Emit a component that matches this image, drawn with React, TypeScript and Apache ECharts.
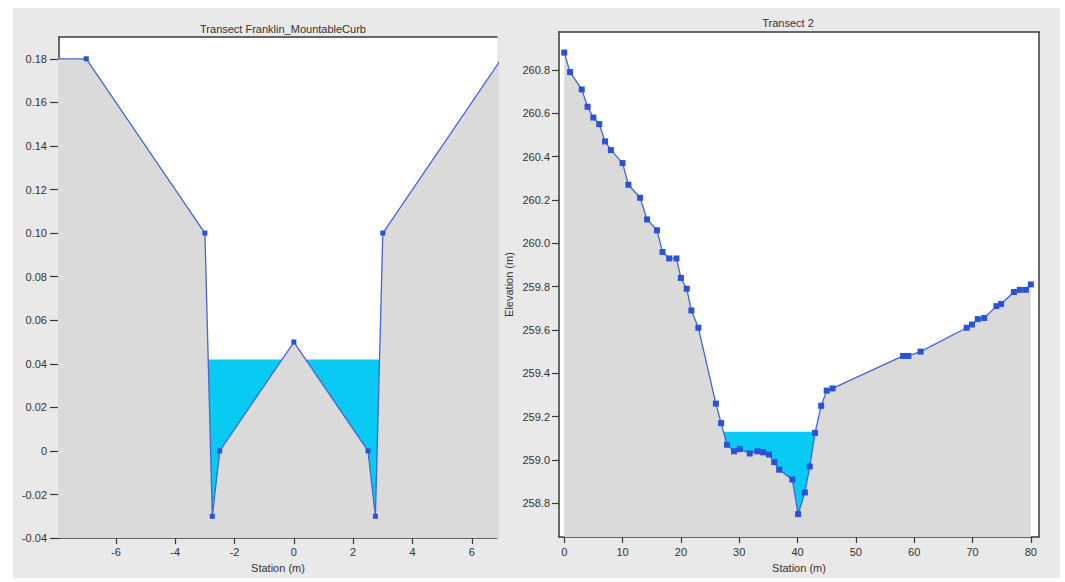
import React, { useEffect, useRef } from "react";
import * as echarts from "echarts";

// ---- Left transect (Franklin_MountableCurb) ----
const LEFT_STATION = [-8, -7, -3, -2.75, -2.5, 0, 2.5, 2.75, 3, 7];
const LEFT_ELEV = [0.18, 0.18, 0.1, -0.03, 0, 0.05, 0, -0.03, 0.1, 0.18];
const LEFT_WATER = 0.042;
const LEFT_X_TICKS = [-6, -4, -2, 0, 2, 4, 6];
const LEFT_Y_TICKS = [-0.04, -0.02, 0, 0.02, 0.04, 0.06, 0.08, 0.1, 0.12, 0.14, 0.16, 0.18];

// ---- Right transect (Transect 2) ----
const RIGHT_STATION = [
  0, 1, 3, 4, 5, 6, 7, 8, 10, 11,
  13, 14.2, 15.9, 16.85, 18, 19.25, 20, 21, 21.8, 23,
  26, 26.9, 27.9, 29.1, 30.1, 31.8, 33.1, 34.1, 35.1, 36,
  36.85, 39.1, 40.1, 41.25, 42.1, 43, 44.05, 45, 46, 58.1,
  59, 61.1, 69, 69.9, 70.9, 72, 74.1, 74.9, 77.1, 78.1,
  79.15, 80,
];
const RIGHT_ELEV = [
  260.88, 260.79, 260.71, 260.63, 260.58, 260.55, 260.47, 260.43, 260.37, 260.27,
  260.21, 260.11, 260.06, 259.96, 259.93, 259.93, 259.84, 259.79, 259.69, 259.61,
  259.26, 259.17, 259.07, 259.04, 259.05, 259.03, 259.04, 259.035, 259.025, 258.99,
  258.955, 258.91, 258.75, 258.85, 258.97, 259.125, 259.25, 259.32, 259.33, 259.48,
  259.48, 259.5, 259.61, 259.625, 259.65, 259.655, 259.71, 259.72, 259.775, 259.785,
  259.785, 259.81,
];
const RIGHT_WATER = 259.13;
const RIGHT_X_TICKS = [0, 10, 20, 30, 40, 50, 60, 70, 80];
const RIGHT_Y_TICKS = [258.8, 259.0, 259.2, 259.4, 259.6, 259.8, 260.0, 260.2, 260.4, 260.6, 260.8];

const FONT = "Liberation Sans";
const AXIS_COLOR = "#3a3a3a";
const LINE_COLOR = "#4566cf";
const MARK_COLOR = "#2a52d8";
const WATER_COLOR = "#08caf2";
const GROUND_COLOR = "#dadada";

function waterSpan(xs: number[], ys: number[], level: number): number[][] {
  let xl = xs[0];
  let xr = xs[xs.length - 1];
  for (let i = 0; i < xs.length - 1; i++) {
    if (ys[i] >= level && ys[i + 1] < level) {
      xl = xs[i] + ((ys[i] - level) / (ys[i] - ys[i + 1])) * (xs[i + 1] - xs[i]);
      break;
    }
  }
  for (let j = xs.length - 2; j >= 0; j--) {
    if (ys[j] < level && ys[j + 1] >= level) {
      xr = xs[j] + ((level - ys[j]) / (ys[j + 1] - ys[j])) * (xs[j + 1] - xs[j]);
      break;
    }
  }
  return [
    [xl, level],
    [xr, level],
  ];
}

const zip = (xs: number[], ys: number[]) => xs.map((x, i) => [x, ys[i]]);

export default function App() {
  const ref = useRef<HTMLDivElement>(null);

  useEffect(() => {
    if (!ref.current) return;
    const chart = echarts.init(ref.current, undefined, { renderer: "svg" });

    const labelStyle = { color: "#333", fontSize: 11, fontFamily: FONT };
    const line = { show: true, onZero: false, lineStyle: { color: AXIS_COLOR, width: 1.5 } };

    const mainX = (gridIndex: number, min: number, max: number, ticks: number[], margin: number, gap: number) => ({
      type: "value",
      gridIndex,
      min,
      max,
      position: "bottom",
      name: "Station (m)",
      nameLocation: "middle",
      nameGap: gap,
      nameTextStyle: labelStyle,
      axisLine: line,
      axisTick: { show: true, length: 6, customValues: ticks, lineStyle: { color: AXIS_COLOR, width: 1.2 } },
      axisLabel: { ...labelStyle, margin, customValues: ticks, formatter: (v: number) => String(Math.round(v)) },
      splitLine: { show: false },
    });
    const borderX = (gridIndex: number, min: number, max: number) => ({
      type: "value",
      gridIndex,
      min,
      max,
      position: "top",
      axisLine: line,
      axisTick: { show: false },
      axisLabel: { show: false },
      splitLine: { show: false },
    });

    const option: any = {
      animation: false,
      backgroundColor: "#e9e9e9",
      title: [
        {
          text: "Transect Franklin_MountableCurb",
          left: 265,
          top: 10,
          textAlign: "center",
          textStyle: { ...labelStyle, fontWeight: "normal" },
        },
        {
          text: "Transect 2",
          left: 770,
          top: 4,
          textAlign: "center",
          textStyle: { ...labelStyle, fontWeight: "normal" },
        },
      ],
      grid: [
        { left: 46, top: 29, width: 438, height: 505, show: true, backgroundColor: "#ffffff", borderWidth: 0 },
        { left: 546, top: 24, width: 480, height: 513, show: true, backgroundColor: "#ffffff", borderWidth: 0 },
      ],
      xAxis: [
        mainX(0, -7.92, 6.85, LEFT_X_TICKS, 8, 22),
        borderX(0, -7.92, 6.85),
        mainX(1, -0.9, 81.4, RIGHT_X_TICKS, 9, 23),
        borderX(1, -0.9, 81.4),
      ],
      yAxis: [
        {
          type: "value",
          gridIndex: 0,
          min: -0.04,
          max: 0.19,
          position: "left",
          axisLine: line,
          axisTick: { show: true, length: 9, customValues: LEFT_Y_TICKS, lineStyle: { color: AXIS_COLOR, width: 1.2 } },
          axisLabel: {
            ...labelStyle,
            margin: 12,
            customValues: LEFT_Y_TICKS,
            formatter: (v: number) => (Math.abs(v) < 1e-9 ? "0" : v.toFixed(2)),
          },
          splitLine: { show: false },
        },
        {
          type: "value",
          gridIndex: 1,
          min: 258.644,
          max: 260.975,
          position: "left",
          name: "Elevation (m)",
          nameLocation: "middle",
          nameGap: 45,
          nameTextStyle: labelStyle,
          axisLine: line,
          axisTick: { show: true, length: 7, customValues: RIGHT_Y_TICKS, lineStyle: { color: AXIS_COLOR, width: 1.2 } },
          axisLabel: {
            ...labelStyle,
            margin: 9,
            customValues: RIGHT_Y_TICKS,
            formatter: (v: number) => v.toFixed(1),
          },
          splitLine: { show: false },
        },
        {
          type: "value",
          gridIndex: 1,
          min: 258.644,
          max: 260.975,
          position: "right",
          axisLine: line,
          axisTick: { show: false },
          axisLabel: { show: false },
          splitLine: { show: false },
        },
      ],
      series: [
        {
          type: "line",
          xAxisIndex: 0,
          yAxisIndex: 0,
          data: waterSpan(LEFT_STATION, LEFT_ELEV, LEFT_WATER),
          symbol: "none",
          lineStyle: { width: 0, opacity: 0 },
          areaStyle: { color: WATER_COLOR, opacity: 1, origin: "start" },
          silent: true,
          z: 1,
        },
        {
          type: "line",
          xAxisIndex: 0,
          yAxisIndex: 0,
          data: zip(LEFT_STATION, LEFT_ELEV),
          symbol: "rect",
          symbolSize: 5,
          showAllSymbol: true,
          itemStyle: { color: MARK_COLOR },
          lineStyle: { color: LINE_COLOR, width: 1.3 },
          areaStyle: { color: GROUND_COLOR, opacity: 1, origin: "start" },
          silent: true,
          z: 2,
        },
        {
          type: "line",
          xAxisIndex: 2,
          yAxisIndex: 1,
          data: waterSpan(RIGHT_STATION, RIGHT_ELEV, RIGHT_WATER),
          symbol: "none",
          lineStyle: { width: 0, opacity: 0 },
          areaStyle: { color: WATER_COLOR, opacity: 1, origin: "start" },
          silent: true,
          z: 1,
        },
        {
          type: "line",
          xAxisIndex: 2,
          yAxisIndex: 1,
          data: zip(RIGHT_STATION, RIGHT_ELEV),
          symbol: "rect",
          symbolSize: 6,
          showAllSymbol: true,
          itemStyle: { color: MARK_COLOR },
          lineStyle: { color: LINE_COLOR, width: 1.3 },
          areaStyle: { color: GROUND_COLOR, opacity: 1, origin: "start" },
          silent: true,
          z: 2,
        },
      ],
    };

    chart.setOption(option);
    return () => chart.dispose();
  }, []);

  return (
    <div style={{ position: "fixed", left: 0, top: 0, width: 1065, height: 582, background: "#ffffff" }}>
      <div ref={ref} style={{ position: "absolute", left: 13, top: 8, width: 1047, height: 570 }} />
    </div>
  );
}
